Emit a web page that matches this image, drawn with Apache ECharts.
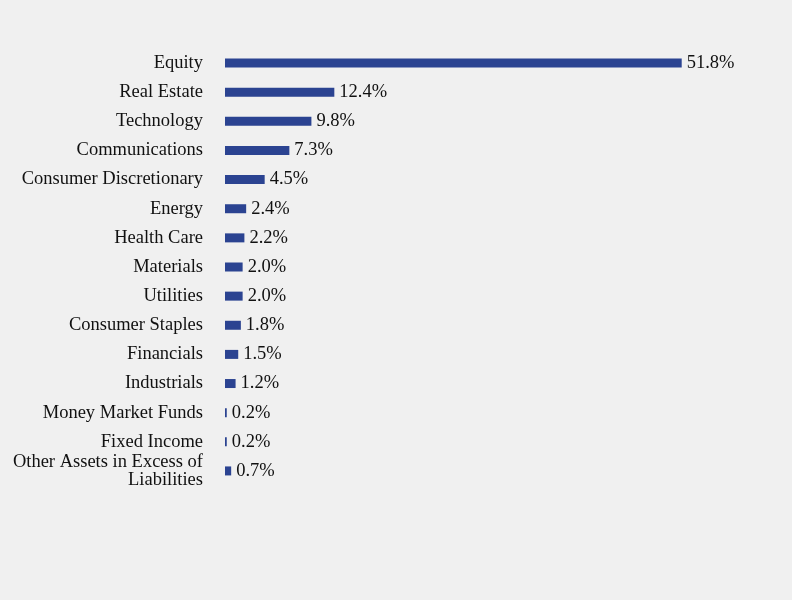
<!DOCTYPE html>
<html>
<head>
<meta charset="utf-8">
<script src="https://cdn.jsdelivr.net/npm/echarts@6/dist/echarts.min.js"></script>
<style>
  html, body { margin: 0; padding: 0; background: #f0f0f0; }
  #chart1 { width: 792px; height: 600px; }
</style>
</head>
<body>
<div id="chart1"></div>
<script>
const categories = ['Equity', 'Real Estate', 'Technology', 'Communications', 'Consumer Discretionary',
  'Energy', 'Health Care', 'Materials', 'Utilities', 'Consumer Staples', 'Financials',
  'Industrials', 'Money Market Funds', 'Fixed Income', 'Other Assets in Excess of\nLiabilities'];
const values = [51.8, 12.4, 9.8, 7.3, 4.5, 2.4, 2.2, 2.0, 2.0, 1.8, 1.5, 1.2, 0.2, 0.2, 0.7];

let myChart = echarts.init(document.getElementById('chart1'));
const option = {
    backgroundColor: '#f0f0f0',
    animation: false,
    textStyle: { fontFamily: 'Liberation Serif, Times New Roman, serif' },
    grid: { left: 225, right: 38, top: 48.5, bottom: 114.5, containLabel: false },
    xAxis: {
        type: 'value',
        min: 0,
        max: 60,
        show: false
    },
    yAxis: {
        type: 'category',
        inverse: true,
        data: categories,
        axisLine: { show: false },
        axisTick: { show: false },
        axisLabel: {
            margin: 22,
            color: '#111',
            fontSize: 18.5,
            lineHeight: 18,
            fontFamily: 'Liberation Serif, Times New Roman, serif'
        }
    },
    series: [{
        type: 'bar',
        data: values,
        barWidth: 9,
        itemStyle: { color: '#2b4391' },
        label: {
            show: true,
            position: 'right',
            distance: 5,
            color: '#111',
            fontSize: 18.5,
            fontFamily: 'Liberation Serif, Times New Roman, serif',
            formatter: p => p.value.toFixed(1) + '%'
        }
    }]
};
myChart.setOption(option);
</script>
</body>
</html>
